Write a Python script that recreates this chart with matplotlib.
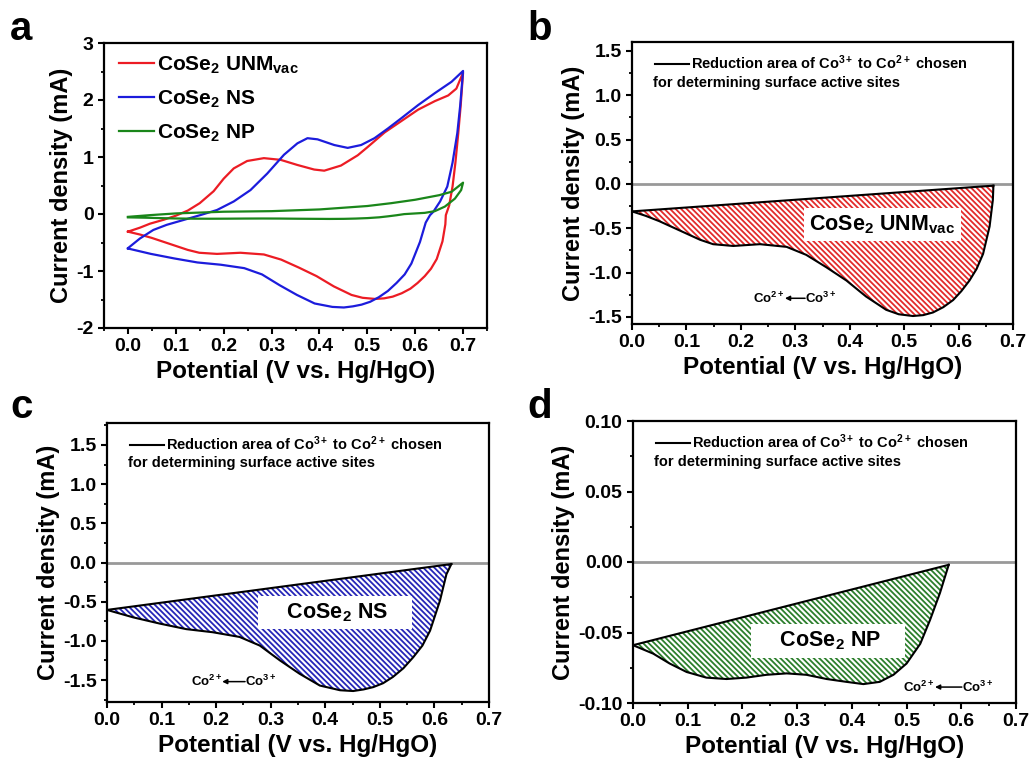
import matplotlib
matplotlib.use('Agg')
import matplotlib.pyplot as plt
from matplotlib.lines import Line2D
from matplotlib.ticker import MultipleLocator, FormatStrFormatter
import numpy as np

# Fuente tipo Arial en negrita
plt.rcParams['font.family'] = ['Liberation Sans', 'DejaVu Sans']
plt.rcParams['font.weight'] = 'bold'
plt.rcParams['axes.labelweight'] = 'bold'
plt.rcParams['mathtext.fontset'] = 'custom'
plt.rcParams['mathtext.rm'] = 'Liberation Sans:bold'
plt.rcParams['mathtext.it'] = 'Liberation Sans:bold'
plt.rcParams['mathtext.bf'] = 'Liberation Sans:bold'
plt.rcParams['axes.unicode_minus'] = False
plt.rcParams['hatch.linewidth'] = 1.3

# CoSe2 UNMvac - barrido anodico (0 -> 0.7 V)
unm_ano_v = [0.0, 0.025, 0.046, 0.075, 0.1, 0.125, 0.15, 0.179, 0.2, 0.221, 0.249, 0.284, 0.319,
             0.354, 0.389, 0.41, 0.445, 0.48, 0.5, 0.536, 0.571, 0.606, 0.641, 0.669, 0.686, 0.7]
unm_ano_i = [-0.31, -0.24, -0.17, -0.10, -0.03, 0.06, 0.19, 0.40, 0.62, 0.80, 0.93, 0.98, 0.95,
             0.86, 0.78, 0.76, 0.85, 1.03, 1.17, 1.43, 1.63, 1.83, 1.98, 2.08, 2.2, 2.48]
# CoSe2 UNMvac - barrido catodico (0.7 -> 0 V)
unm_cat_v = [0.7, 0.695, 0.69, 0.684, 0.678, 0.671, 0.664, 0.663, 0.657, 0.645, 0.633, 0.62,
             0.605, 0.59, 0.572, 0.553, 0.535, 0.516, 0.49, 0.467, 0.43, 0.394, 0.357, 0.32,
             0.284, 0.235, 0.186, 0.149, 0.125, 0.1, 0.075, 0.05, 0.025, 0.0]
unm_cat_i = [2.48, 1.9, 1.42, 0.9, 0.48, 0.15, -0.02, -0.18, -0.48, -0.79, -0.96, -1.09,
             -1.21, -1.31, -1.39, -1.45, -1.48, -1.49, -1.47, -1.42, -1.27, -1.09, -0.94, -0.80,
             -0.71, -0.68, -0.70, -0.68, -0.63, -0.56, -0.49, -0.42, -0.36, -0.31]

# CoSe2 NS
ns_ano_v = [0.0, 0.025, 0.053, 0.081, 0.116, 0.151, 0.186, 0.221, 0.256, 0.291, 0.326, 0.354,
            0.375, 0.396, 0.431, 0.459, 0.487, 0.515, 0.543, 0.571, 0.606, 0.641, 0.676, 0.7]
ns_ano_i = [-0.60, -0.43, -0.28, -0.19, -0.105, -0.02, 0.07, 0.22, 0.42, 0.71, 1.04, 1.24,
            1.33, 1.31, 1.21, 1.16, 1.21, 1.33, 1.5, 1.68, 1.91, 2.12, 2.32, 2.51]
ns_cat_v = [0.7, 0.694, 0.688, 0.678, 0.667, 0.652, 0.638, 0.631, 0.622, 0.61, 0.592, 0.578,
            0.561, 0.543, 0.524, 0.506, 0.488, 0.47, 0.451, 0.427, 0.39, 0.353, 0.317, 0.28,
            0.243, 0.194, 0.145, 0.097, 0.048, 0.0]
ns_cat_i = [2.51, 1.9, 1.42, 0.9, 0.48, 0.22, 0.04, -0.02, -0.15, -0.49, -0.87, -1.06,
            -1.21, -1.35, -1.46, -1.54, -1.59, -1.62, -1.64, -1.63, -1.57, -1.42, -1.25, -1.06,
            -0.95, -0.89, -0.85, -0.78, -0.70, -0.605]

# CoSe2 NP
np_ano_v = [0.0, 0.046, 0.1, 0.2, 0.3, 0.4, 0.5, 0.55, 0.6, 0.65, 0.676, 0.7]
np_ano_i = [-0.05, -0.02, 0.01, 0.04, 0.05, 0.08, 0.14, 0.19, 0.25, 0.33, 0.39, 0.55]
np_cat_v = [0.7, 0.696, 0.683, 0.662, 0.641, 0.62, 0.577, 0.561, 0.543, 0.525, 0.5, 0.476,
            0.451, 0.421, 0.39, 0.354, 0.317, 0.281, 0.244, 0.207, 0.171, 0.134, 0.098,
            0.067, 0.037, 0.0]
np_cat_i = [0.55, 0.42, 0.27, 0.13, 0.05, 0.02, -0.002, -0.022, -0.041, -0.058, -0.072, -0.080,
            -0.085, -0.0866, -0.085, -0.083, -0.080, -0.079, -0.080, -0.082, -0.083, -0.082,
            -0.078, -0.072, -0.065, -0.059]

RED, BLUE, GREEN = '#ec1c24', '#1c1cdc', '#1a861a'
HATCH_RED, HATCH_BLUE, HATCH_GREEN = '#e32b2b', '#2626b8', '#2c7f2c'

W, H = 1033, 772
fig = plt.figure(figsize=(W / 100, H / 100), dpi=100)


def rect(l, t, r, b):
    return [l / W, 1 - b / H, (r - l) / W, (b - t) / H]


def style_axes(ax, xlim, ylim, ymaj, ymin, yfmt):
    ax.set_xlim(*xlim)
    ax.set_ylim(*ylim)
    ax.xaxis.set_major_locator(MultipleLocator(0.1))
    ax.xaxis.set_minor_locator(MultipleLocator(0.05))
    ax.xaxis.set_major_formatter(FormatStrFormatter('%.1f'))
    ax.yaxis.set_major_locator(MultipleLocator(ymaj))
    ax.yaxis.set_minor_locator(MultipleLocator(ymin))
    ax.yaxis.set_major_formatter(FormatStrFormatter(yfmt))
    ax.tick_params(which='major', direction='out', length=4.5, width=1.5, labelsize=14, pad=3)
    ax.tick_params(which='minor', direction='out', length=2.5, width=1.3)
    for s in ax.spines.values():
        s.set_linewidth(1.6)
    ax.set_xlabel('Potential (V vs. Hg/HgO)', fontsize=17.5, labelpad=3)
    ax.set_ylabel('Current density (mA)', fontsize=17, labelpad=2)


# ---- panel a ----
ax = fig.add_axes(rect(104, 43, 487, 328))
ax.plot(unm_ano_v + unm_cat_v, unm_ano_i + unm_cat_i, color=RED, lw=1.6, label='CoSe$_2$ UNM$_{vac}$')
ax.plot(ns_ano_v + ns_cat_v, ns_ano_i + ns_cat_i, color=BLUE, lw=1.6, label='CoSe$_2$ NS')
ax.plot(np_ano_v + np_cat_v, np_ano_i + np_cat_i, color=GREEN, lw=1.6, label='CoSe$_2$ NP')
style_axes(ax, (-0.05, 0.75), (-2, 3), 1, 0.5, '%d')
ax.legend(loc='upper left', bbox_to_anchor=(-0.01, 1.025), frameon=False, fontsize=15,
          handlelength=1.7, handletextpad=0.15, labelspacing=0.6)
fig.text(10 / W, 1 - 40 / H, 'a', fontsize=29, fontweight='bold')


def reduction_panel(box, v, i, hatch_col, ylim, ymaj, ymin, yfmt, name, name_xy,
                    co_x, co_y, letter, letter_xy):
    ax = fig.add_axes(rect(*box))
    v = np.array(v)
    i = np.array(i)
    keep = i <= 0
    v, i = v[keep][::-1], i[keep][::-1]
    base = np.interp(v, [v[0], v[-1]], [i[0], i[-1]])
    ax.axhline(0, color='#999999', lw=2, zorder=1)
    ax.fill_between(v, i, base, facecolor='white', edgecolor=hatch_col, hatch='\\' * 6,
                    linewidth=0, zorder=2)
    ax.plot(v, i, color='black', lw=1.5, zorder=3)
    ax.plot(v, base, color='black', lw=1.5, zorder=3)
    style_axes(ax, (0, 0.7), ylim, ymaj, ymin, yfmt)
    h = Line2D([], [], color='black', lw=1.5)
    ax.legend([h], ['Reduction area of Co$^{3+}$ to Co$^{2+}$ chosen'], loc='upper left',
              bbox_to_anchor=(0.03, 1.0), frameon=False, fontsize=10.5,
              handlelength=2.3, handletextpad=0.15, borderaxespad=0.4)
    ax.text(0.055, 0.855, 'for determining surface active sites', transform=ax.transAxes,
            fontsize=10.5, va='center', ha='left')
    ax.text(name_xy[0], name_xy[1], name, fontsize=15.5, ha='center', va='center', zorder=4,
            bbox=dict(boxstyle='square,pad=0.25', facecolor='white', edgecolor='none'))
    # Co2+ <- Co3+
    ax.text(co_x[0], co_y, 'Co$^{2+}$', fontsize=9.5, ha='right', va='center', zorder=4)
    ax.text(co_x[1], co_y, 'Co$^{3+}$', fontsize=9.5, ha='left', va='center', zorder=4)
    ax.annotate('', xy=(co_x[0], co_y), xytext=(co_x[1], co_y), zorder=4,
                arrowprops=dict(arrowstyle='-|>', color='black', lw=1.1, mutation_scale=7,
                                shrinkA=0, shrinkB=0))
    fig.text(letter_xy[0] / W, 1 - letter_xy[1] / H, letter, fontsize=29, fontweight='bold')
    return ax


reduction_panel((632, 42, 1013, 324), unm_cat_v, unm_cat_i, HATCH_RED, (-1.58, 1.6), 0.5, 0.25,
                '%.1f', 'CoSe$_2$ UNM$_{vac}$', (0.46, -0.46), (0.281, 0.318), -1.29, 'b', (527, 40))
reduction_panel((107, 423, 489, 702), ns_cat_v, ns_cat_i, HATCH_BLUE, (-1.78, 1.78), 0.5, 0.25,
                '%.1f', '    CoSe$_2$ NS    ', (0.418, -0.64), (0.211, 0.253), -1.52, 'c', (10, 418))
reduction_panel((633, 421, 1016, 703), np_cat_v, np_cat_i, HATCH_GREEN, (-0.1, 0.1), 0.05, 0.025,
                '%.2f', '    CoSe$_2$ NP    ', (0.356, -0.056), (0.552, 0.601), -0.0887, 'd', (527, 418))

fig.savefig('out.png', dpi=100)
